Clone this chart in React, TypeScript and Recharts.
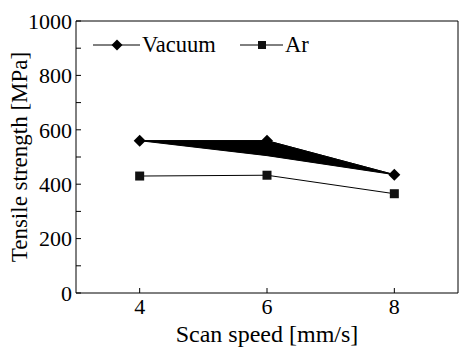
import { ComposedChart, Area, Line, XAxis, YAxis, Legend } from "recharts";

// scan speed [mm/s]
const speeds = [4, 6, 8];
// tensile strength [MPa]
const vacuum = [560, 560, 435];
const vacuumLow = [560, 505, 435]; // lower edge of the dark band
const argon = [430, 433, 365];

const xTicks = [4, 6, 8];
const yTicks = [0, 100, 200, 300, 400, 500, 600, 700, 800, 900, 1000];

const data = speeds.map((s, i) => ({
  speed: s,
  vacuum: vacuum[i],
  band: [vacuumLow[i], vacuum[i]],
  ar: argon[i],
}));

const FONT = "Liberation Serif";
const tickStyle = { fontFamily: FONT, fontSize: 22, fill: "#000" };

const Diamond = (p: any) => {
  const { cx, cy, index } = p;
  if (cx == null || cy == null) return <g key={`dv-${index}`} />;
  const r = 6;
  return (
    <polygon
      key={`dv-${index}`}
      points={`${cx},${cy - r} ${cx + r},${cy} ${cx},${cy + r} ${cx - r},${cy}`}
      fill="#000"
    />
  );
};

const Square = (p: any) => {
  const { cx, cy, index } = p;
  if (cx == null || cy == null) return <g key={`sq-${index}`} />;
  return <rect key={`sq-${index}`} x={cx - 4.5} y={cy - 4.5} width={9} height={9} fill="#111" />;
};

const renderLegend = () => (
  <svg width={240} height={30} style={{ overflow: "visible" }}>
    <line x1={8} y1={15} x2={55} y2={15} stroke="#000" strokeWidth={1} />
    <polygon points="32,9.5 37.5,15 32,20.5 26.5,15" fill="#000" />
    <text x={57} y={22} fontFamily={FONT} fontSize={22.5} fill="#000">Vacuum</text>
    <line x1={155} y1={15} x2={198} y2={15} stroke="#000" strokeWidth={1} />
    <rect x={173} y={11} width={8} height={8} fill="#111" />
    <text x={200} y={22} fontFamily={FONT} fontSize={22.5} fill="#000">Ar</text>
  </svg>
);

const XTitle = (props: any) => {
  const vb = props.viewBox;
  return (
    <text
      x={vb.x + vb.width / 2}
      y={vb.y + vb.height - 5}
      textAnchor="middle"
      fontFamily={FONT}
      fontSize={24}
      fill="#000"
    >
      Scan speed [mm/s]
    </text>
  );
};

const YTitle = (props: any) => {
  const vb = props.viewBox;
  const x = vb.x + 27;
  const y = vb.y + vb.height / 2;
  return (
    <text
      x={x}
      y={y}
      transform={`rotate(-90 ${x} ${y})`}
      textAnchor="middle"
      fontFamily={FONT}
      fontSize={23}
      fill="#000"
    >
      Tensile strength [MPa]
    </text>
  );
};

const yFmt = (v: number) => (v % 200 === 0 ? String(v) : "");

export default function App() {
  return (
    <div style={{ position: "absolute", left: 0, top: 0, background: "#fff", fontFamily: FONT }}>
      <ComposedChart
        width={459}
        height={347}
        data={data}
        margin={{ top: 20, right: 0, bottom: 0, left: 0 }}
      >
        <XAxis
          dataKey="speed"
          type="number"
          domain={[3, 9]}
          ticks={xTicks}
          height={54}
          tickSize={-5}
          tickMargin={10}
          tick={tickStyle}
          axisLine={{ stroke: "#000" }}
          tickLine={{ stroke: "#000" }}
          label={{ content: XTitle }}
        />
        <XAxis
          xAxisId="top"
          orientation="top"
          dataKey="speed"
          type="number"
          domain={[3, 9]}
          ticks={xTicks}
          height={1}
          tickSize={-5}
          tick={false}
          axisLine={{ stroke: "#000" }}
          tickLine={{ stroke: "#000" }}
        />
        <YAxis
          type="number"
          domain={[0, 1000]}
          ticks={yTicks}
          tickFormatter={yFmt}
          width={76}
          tickSize={-5}
          tickMargin={9}
          tick={tickStyle}
          axisLine={{ stroke: "#000" }}
          tickLine={{ stroke: "#000" }}
          label={{ content: YTitle }}
        />
        <YAxis
          yAxisId="right"
          orientation="right"
          type="number"
          domain={[0, 1000]}
          ticks={yTicks}
          width={1}
          tickSize={-5}
          tick={false}
          axisLine={{ stroke: "#000" }}
          tickLine={{ stroke: "#000" }}
        />
        <Legend
          layout="horizontal"
          verticalAlign="middle"
          align="center"
          content={renderLegend}
          wrapperStyle={{ left: 85, top: 30, width: 240, height: 30 }}
        />
        <Area
          dataKey="band"
          type="linear"
          stroke="#000"
          strokeWidth={1}
          fill="#000"
          fillOpacity={1}
          dot={false}
          activeDot={false}
          isAnimationActive={false}
        />
        <Line
          dataKey="vacuum"
          type="linear"
          stroke="#000"
          strokeWidth={1}
          dot={Diamond}
          activeDot={false}
          isAnimationActive={false}
        />
        <Line
          dataKey="ar"
          type="linear"
          stroke="#000"
          strokeWidth={1}
          dot={Square}
          activeDot={false}
          isAnimationActive={false}
        />
      </ComposedChart>
    </div>
  );
}
